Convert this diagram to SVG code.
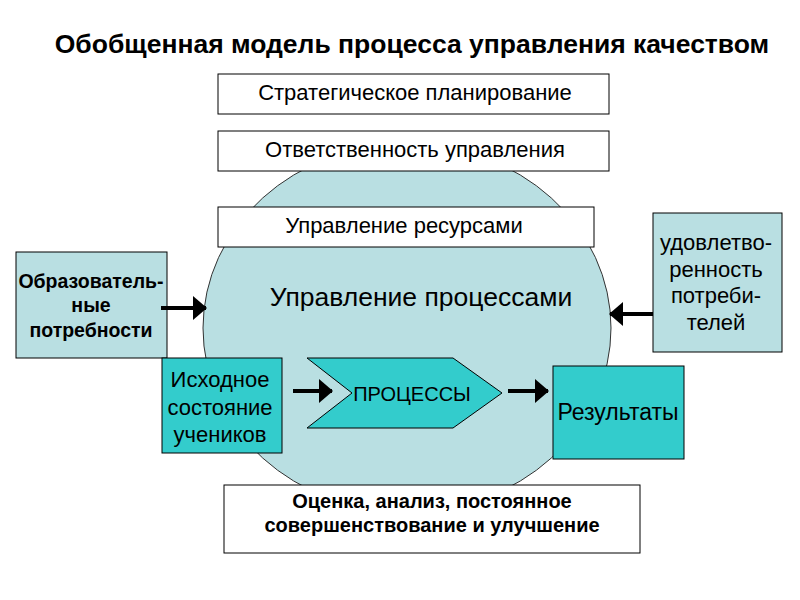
<svg xmlns="http://www.w3.org/2000/svg" width="800" height="600" viewBox="0 0 800 600">
<defs>
<style>
.t{font-family:"Liberation Sans",Arial,sans-serif;fill:#000;text-anchor:middle}
.box{fill:#fff;stroke:#000;stroke-width:1}
.lb{fill:#b9dfe2;stroke:#000;stroke-width:1}
.tl{fill:#33cccc;stroke:#000;stroke-width:1}
.arr{stroke:#000;stroke-width:4;fill:none;marker-end:url(#ah)}
</style>
<marker id="ah" markerUnits="userSpaceOnUse" markerWidth="14" markerHeight="24" refX="13" refY="12" orient="auto">
<path d="M0,0 L14,12 L0,24 Z" fill="#000"/>
</marker>
</defs>
<rect width="800" height="600" fill="#fff"/>
<text class="t" x="412" y="53" font-size="26.5" font-weight="bold">Обобщенная модель процесса управления качеством</text>
<g id="ellipse"><ellipse cx="407" cy="328" rx="204" ry="184" fill="#b9dfe2" stroke="#333" stroke-width="1"/>
<text class="t" x="421" y="306" font-size="26.5">Управление процессами</text></g>
<g id="strat"><rect class="box" x="218" y="74" width="391" height="40"/><text class="t" x="415" y="100" font-size="22">Стратегическое планирование</text></g>
<g id="resp"><rect class="box" x="218" y="131" width="391" height="40"/><text class="t" x="415" y="157" font-size="22">Ответственность управления</text></g>
<g id="res"><rect class="box" x="218" y="207" width="376" height="40"/><text class="t" x="404" y="233" font-size="22">Управление ресурсами</text></g>
<g id="needs"><rect class="lb" x="16" y="252" width="151" height="106"/>
<text class="t" x="91" y="288" font-size="19.5" font-weight="bold">Образователь-</text>
<text class="t" x="91" y="312" font-size="19.5" font-weight="bold">ные</text>
<text class="t" x="91" y="337" font-size="19.5" font-weight="bold">потребности</text></g>
<g id="satisf"><rect class="lb" x="653" y="213" width="129" height="139"/>
<text class="t" x="716" y="250" font-size="22">удовлетво-</text>
<text class="t" x="716" y="277" font-size="22">ренность</text>
<text class="t" x="716" y="303" font-size="22">потреби-</text>
<text class="t" x="716" y="330" font-size="22">телей</text></g>
<g id="initial"><rect class="tl" x="162" y="358" width="120" height="95"/>
<text class="t" x="220" y="387" font-size="22">Исходное</text>
<text class="t" x="220" y="415" font-size="22">состояние</text>
<text class="t" x="220" y="442" font-size="22">учеников</text></g>
<g id="proc"><polygon class="tl" points="307,358 453,358 502,393 453,428 307,428 352,393"/>
<text class="t" x="412" y="401" font-size="20">ПРОЦЕССЫ</text></g>
<g id="results"><rect class="tl" x="553" y="366" width="131" height="93"/>
<text class="t" x="618" y="420" font-size="23">Результаты</text></g>
<g id="eval"><rect class="box" x="224" y="485" width="416" height="68"/>
<text class="t" x="432" y="508" font-size="20" font-weight="bold">Оценка, анализ, постоянное</text>
<text class="t" x="432" y="532" font-size="20" font-weight="bold">совершенствование и улучшение</text></g>
<g id="connectors">
<path class="arr" d="M161,308 L206,308"/>
<path class="arr" d="M653,314 L610,314"/>
<path class="arr" d="M293,391 L332,391"/>
<path class="arr" d="M508,391 L548,391"/>
</g>
</svg>
